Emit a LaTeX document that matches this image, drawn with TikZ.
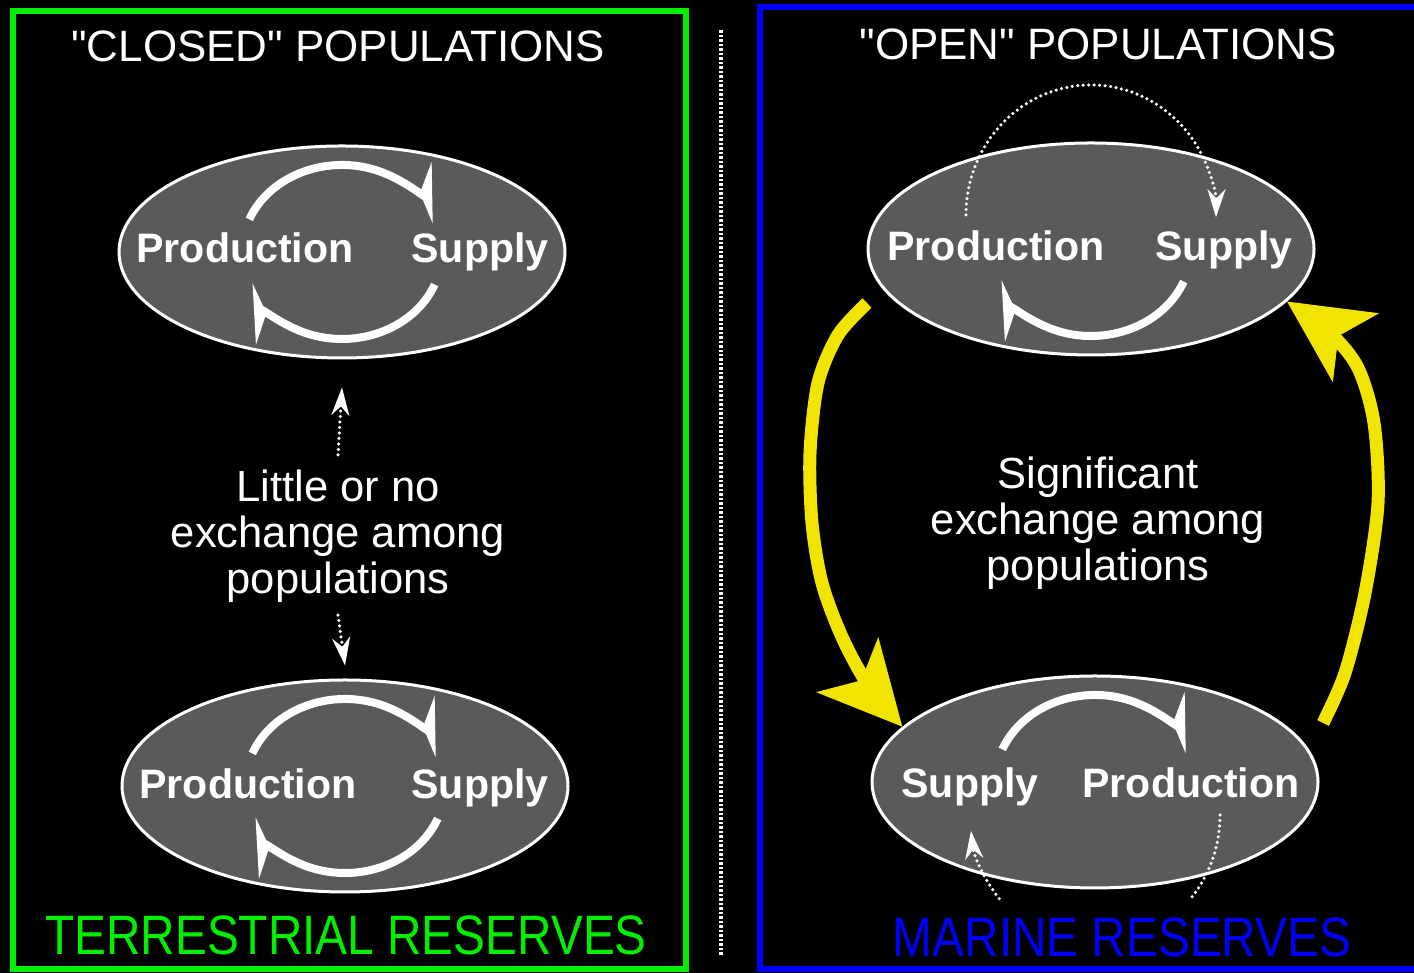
\documentclass[tikz,border=0pt]{standalone}
\usepackage{fontspec}
\setmainfont{Liberation Sans}[Ligatures=TeXOff]
\usetikzlibrary{shapes.geometric,arrows.meta}
\definecolor{termgreen}{RGB}{0,240,0}
\definecolor{marblue}{RGB}{0,0,250}
\definecolor{flowyellow}{RGB}{240,228,0}
\definecolor{popgray}{RGB}{90,90,90}

\begin{document}
\begin{tikzpicture}[
    x=0.1mm, y=0.1mm,
    pop/.style = {
      ellipse,
      draw = white,
      line width = 0.3mm,
      fill = popgray,
      minimum width = 44.6mm,
      minimum height = 21.2mm,
      inner sep = 0pt
    },
    word/.style = {
      text = white,
      font = \fontsize{11.7}{14}\selectfont\bfseries,
      anchor = base
    },
    heading/.style = {
      text = white,
      font = \fontsize{12.5}{15}\selectfont,
      anchor = base
    },
    note/.style = {
      text = white,
      align = center,
      inner sep = 0pt,
      font = \fontsize{12.4}{13.1}\selectfont
    },
    reserve/.style = {
      font = \fontsize{15.8}{18}\selectfont,
      anchor = base,
      xscale = 0.86
    },
    turn/.style = {
      white,
      line width = 0.8mm,
      -{Stealth[harpoon, length=4.8mm, width=3.8mm, inset=2mm]}
    },
    hop/.style = {
      white,
      line width = 0.35mm,
      line cap = round,
      dash pattern = on 0pt off 0.55mm
    },
    hophead/.style = {
      -{Stealth[length=2.8mm, width=1.8mm]}
    },
    flow/.style = {
      flowyellow,
      line width = 1.3mm,
      -{Stealth[length=8.2mm, width=8.1mm, inset=2mm]}
    }
  ]
  \fill[black] (0,0) rectangle (1414,973);
  \useasboundingbox (0,0) rectangle (1414,973);

  % frames and divider
  \draw[termgreen, line width=0.6mm] (13,4) rectangle (686,962);
  \draw[marblue, line width=0.6mm] (760,4) rectangle (1440,966);
  \draw[white, line width=0.4mm, dash pattern=on 0.25mm off 0.2mm] (721,18) -- (721,943);

  \node[heading] (closedT) at (338,911) {"CLOSED" POPULATIONS};
  \node[heading] (openT) at (1098,913) {"OPEN" POPULATIONS};

  % populations
  \node[pop] (closedA) at (342,721) {};
  \node[pop] (closedB) at (345,187) {};
  \node[pop] (openA) at (1091,724) {};
  \node[pop] (openB) at (1095,191) {};

  \node[word] (prodCA) at (245,710) {Production};
  \node[word] (supCA) at (480,710) {Supply};
  \node[word] (prodCB) at (248,174) {Production};
  \node[word] (supCB) at (480,174) {Supply};
  \node[word] (prodOA) at (996,712) {Production};
  \node[word] (supOA) at (1224,712) {Supply};
  \node[word] (supOB) at (970,175) {Supply};
  \node[word] (prodOB) at (1191,175) {Production};

  % local cycles
  \draw[turn] (closedA.center) ++(158:10mm and 8.7mm) arc[start angle=158, end angle=20, x radius=10mm, y radius=8.7mm];
  \draw[turn] (closedA.center) ++(-22:10mm and 8.7mm) arc[start angle=-22, end angle=-158, x radius=10mm, y radius=8.7mm];
  \draw[turn] (closedB.center) ++(158:10mm and 8.7mm) arc[start angle=158, end angle=20, x radius=10mm, y radius=8.7mm];
  \draw[turn] (closedB.center) ++(-22:10mm and 8.7mm) arc[start angle=-22, end angle=-158, x radius=10mm, y radius=8.7mm];
  \draw[turn] (openA.center) ++(-22:10mm and 8.7mm) arc[start angle=-22, end angle=-158, x radius=10mm, y radius=8.7mm];
  \draw[turn] (openB.center) ++(158:10mm and 8.7mm) arc[start angle=158, end angle=20, x radius=10mm, y radius=8.7mm];

  % dotted hops
  \draw[hop, hophead] (openA.center) ++(0,34) ++(180:12.5mm and 13mm) arc[start angle=180, end angle=-1, x radius=12.5mm, y radius=13mm];
  \draw[hop] (openB.center) ++(0,-33) ++(0:12.5mm and 13mm) arc[start angle=0, end angle=-40, x radius=12.5mm, y radius=13mm];
  \draw[hop, hophead] (openB.center) ++(0,-33) ++(-140:12.5mm and 13mm) arc[start angle=-140, end angle=-173, x radius=12.5mm, y radius=13mm];

  \node[note] (fewX) at (338,437) {Little or no\\exchange among\\populations};
  \node[note] (manyX) at (1098,450) {Significant\\exchange among\\populations};

  \draw[hop, hophead] ([yshift=1.4mm]fewX.north) -- ([yshift=-2.8mm]closedA.south);
  \draw[hop, hophead] ([yshift=-1.2mm]fewX.south) -- ([yshift=1.3mm]closedB.north);

  % exchange between open populations
  \coordinate (leftTail) at (867,670);
  \coordinate (rightTail) at (1323,250);
  \draw[flow] plot[smooth] coordinates {(leftTail) (838,638) (818,590) (810,520) (812,450) (822,390) (842,336) (868,288) (openB.164)};
  \draw[flow] plot[smooth] coordinates {(rightTail) (1345,300) (1365,380) (1378,470) (1374,550) (1358,605) (1330,640) (openA.-15)};

  \node[reserve, termgreen] (terrL) at (346,18) {TERRESTRIAL RESERVES};
  \node[reserve, marblue] (marL) at (1122,16) {MARINE RESERVES};
\end{tikzpicture}
\end{document}
